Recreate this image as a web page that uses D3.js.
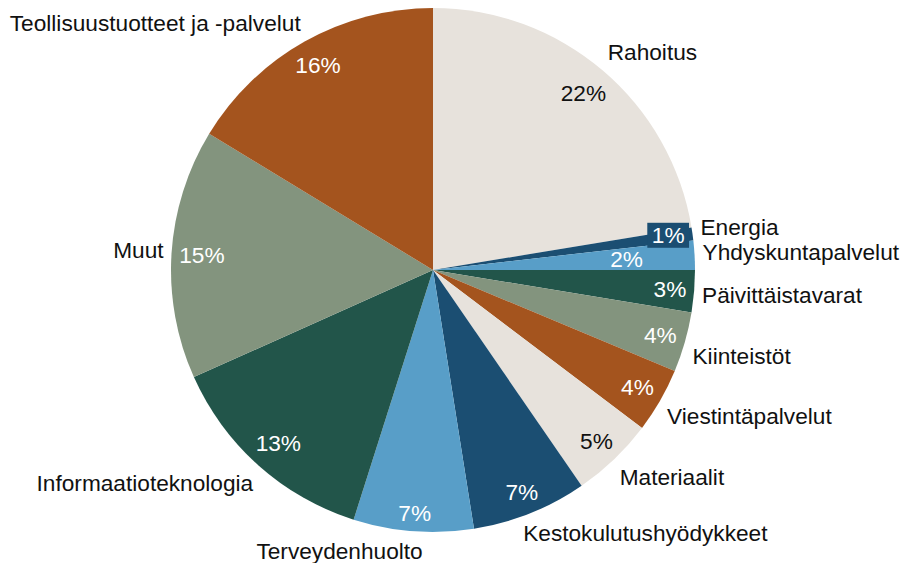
<!DOCTYPE html>
<html lang="fi">
<head>
<meta charset="UTF-8">
<title>Toimialajakauma</title>
<style>
  body { margin: 0; background: #fff; }
  svg { display: block; font-family: "Liberation Sans", Arial, sans-serif; }
</style>
</head>
<body>
<svg id="chart" width="910" height="563"></svg>
<script src="https://cdn.jsdelivr.net/npm/d3@7"></script>
<script>
// toimialat myötäpäivään klo 12:sta alkaen
const categories = ["Rahoitus", "Energia", "Yhdyskuntapalvelut", "Päivittäistavarat",
  "Kiinteistöt", "Viestintäpalvelut", "Materiaalit", "Kestokulutushyödykkeet",
  "Terveydenhuolto", "Informaatioteknologia", "Muut", "Teollisuustuotteet ja -palvelut"];
const shares = [22.4, 0.8, 1.8, 2.6, 3.7, 4.0, 5.1, 7.1, 7.4, 13.4, 15.4, 16.3];
const palette = ["#E7E2DC", "#1B4E72", "#589EC8", "#22554A", "#83947E", "#A4541E"];

const svg = d3.select("#chart");
const cx = 433, cy = 270, R = 262;
const fs = "22.67px";

const pie = d3.pie().sort(null).value(d => d).startAngle(0).endAngle(2 * Math.PI);
const arcs = pie(shares);
const arc = d3.arc().innerRadius(0).outerRadius(R);
const color = d3.scaleOrdinal().domain(categories).range(palette);

const g = svg.append("g").attr("transform", `translate(${cx},${cy})`);

g.selectAll("path.slice")
  .data(arcs)
  .join("path")
  .attr("class", "slice")
  .attr("d", arc)
  .attr("fill", (d, i) => color(categories[i]));

const isLight = c => d3.hsl(c).l > 0.7;
const placed = [];
const hits = (b) => placed.some(p =>
  b.x0 < p.x1 && b.x1 > p.x0 && b.y0 < p.y1 && b.y1 > p.y0);

// prosenttiluvut reunan sisäpuolelle
arcs.forEach((d, i) => {
  const a = (d.startAngle + d.endAngle) / 2;
  const s = Math.sin(a), c = -Math.cos(a);
  const fill = color(categories[i]);
  const lab = g.append("g");
  const t = lab.append("text")
    .attr("text-anchor", "middle")
    .attr("dy", "0.35em")
    .style("font-size", fs)
    .attr("fill", isLight(fill) ? "#111" : "#fff")
    .text(Math.round(d.value) + "%");
  const boxed = d.value < 1;
  const w = t.node().getComputedTextLength() + (boxed ? 9 : 0);
  const h = boxed ? 25 : 20;
  const pad = boxed ? 2 : 7;
  // suurin etäisyys, jolla laatikko mahtuu ympyrän sisään
  let lo = 0, hi = R;
  for (let k = 0; k < 30; k++) {
    const m = (lo + hi) / 2;
    const px = m * s, py = m * c;
    const far = d3.max([[-1, -1], [-1, 1], [1, -1], [1, 1]],
      ([u, v]) => Math.hypot(px + u * w / 2, py + v * h / 2));
    if (far <= R - pad) lo = m; else hi = m;
  }
  let dist = lo;
  const box = m => ({x0: m * s - w / 2 - 2, x1: m * s + w / 2 + 2,
                     y0: m * c - 13, y1: m * c + 13});
  while (dist > 60 && hits(box(dist))) dist -= 1;
  placed.push(box(dist));
  const px = dist * s, py = dist * c;
  if (boxed) {
    lab.insert("rect", "text")
      .attr("x", px - w / 2).attr("y", py - h / 2 - 2)
      .attr("width", w).attr("height", h)
      .attr("fill", fill);
    t.attr("x", px).attr("y", py - 2);
  } else {
    t.attr("x", px).attr("y", py);
  }
});

// toimialojen nimet ulkopuolelle
arcs.forEach((d, i) => {
  const a = (d.startAngle + d.endAngle) / 2;
  const s = Math.sin(a), c = -Math.cos(a);
  const r = R + 8;
  // alareunan nimet limittyvät hieman keskustaa kohti
  const ax = r * s - (c > 0.9 ? 10 * Math.sign(s) : 0), ay = r * c;
  const dy = 12 * Math.max(-1, Math.min(1, c * 3.5));
  g.append("text")
    .attr("x", ax)
    .attr("y", ay + dy)
    .attr("dy", "0.35em")
    .attr("text-anchor", s >= 0 ? "start" : "end")
    .style("font-size", fs)
    .attr("fill", "#111")
    .text(categories[i]);
});
</script>
</body>
</html>
